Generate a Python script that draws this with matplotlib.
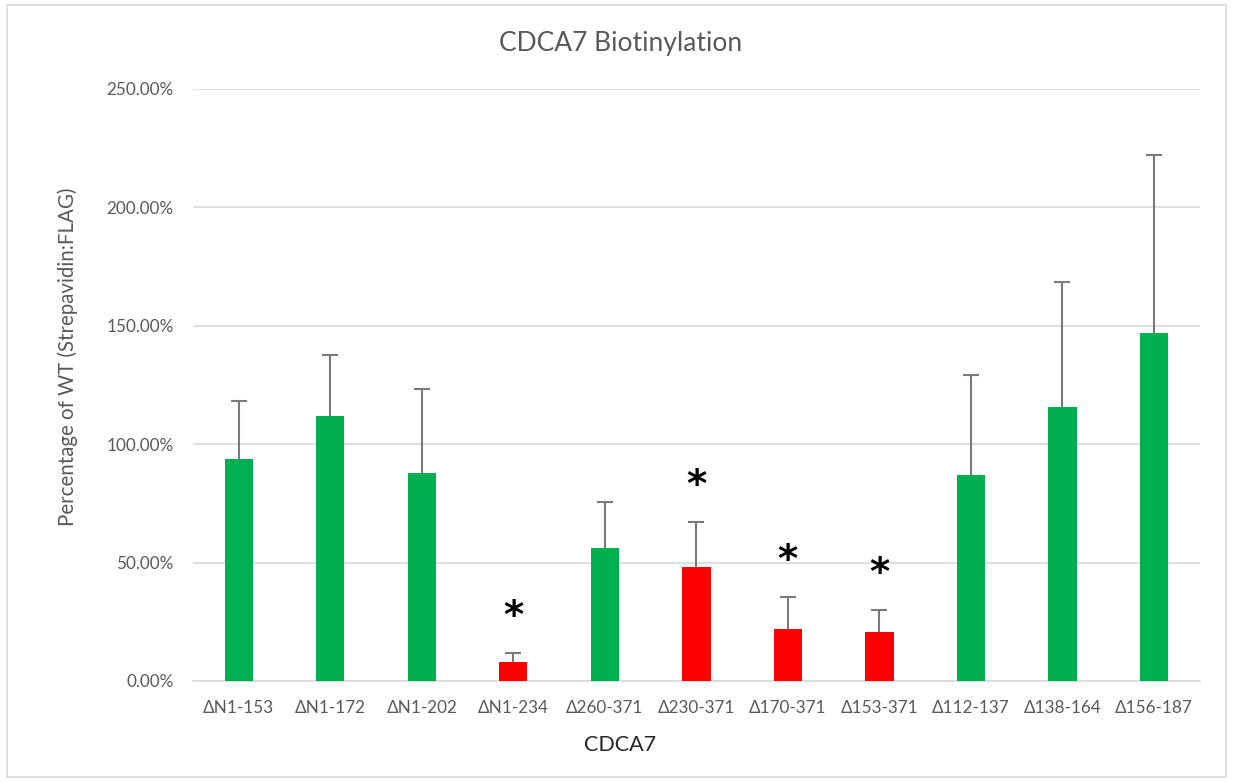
import numpy as np
import matplotlib.pyplot as plt
from matplotlib.ticker import PercentFormatter
from matplotlib.patches import Rectangle

# values (fraction of WT)
constructs = ['ΔN1-153', 'ΔN1-172', 'ΔN1-202', 'ΔN1-234', 'Δ260-371', 'Δ230-371',
              'Δ170-371', 'Δ153-371', 'Δ112-137', 'Δ138-164', 'Δ156-187']
means = [0.938, 1.119, 0.878, 0.080, 0.562, 0.481, 0.220, 0.207, 0.870, 1.157, 1.470]
errors = [0.244, 0.258, 0.355, 0.038, 0.194, 0.190, 0.135, 0.093, 0.422, 0.528, 0.751]
significant = [False, False, False, True, False, True, True, True, False, False, False]

GREEN = '#00b050'
RED = '#ff0000'
GRAY = '#595959'

plt.rcParams['font.family'] = ['Lato', 'DejaVu Sans']

fig = plt.figure(figsize=(12.33, 7.82), dpi=100)
ax = fig.add_axes([0.1565, 0.1292, 0.8165, 0.757])

# light border round the whole chart like the excel chart area
fig.patches.append(Rectangle((0.006, 0.006), 0.988, 0.987, transform=fig.transFigure,
                             fill=False, edgecolor='#d9d9d9', linewidth=1.2))

x = np.arange(len(constructs))
colors = [RED if s else GREEN for s in significant]
ax.bar(x, means, width=0.31, color=colors, zorder=3)
eb = ax.errorbar(x, means, yerr=[np.zeros(len(errors)), errors], fmt='none',
                 ecolor='#7a7a7a', elinewidth=1.5, capsize=6, capthick=1.5, zorder=4)
# only the upper cap, like the "plus" error bars in excel
eb[1][0].set_visible(False)

# significance stars above the error bars
for xi, m, e, s in zip(x, means, errors, significant):
    if s:
        ax.annotate('*', (xi, m + e), xytext=(0, 12), textcoords='offset points',
                    ha='center', va='bottom', fontsize=28, fontweight='bold',
                    color='black', family='DejaVu Sans')

ax.set_xlim(-0.5, len(constructs) - 0.5)
ax.set_ylim(0, 2.5)
ax.set_yticks(np.arange(0, 2.51, 0.5))
ax.yaxis.set_major_formatter(PercentFormatter(xmax=1, decimals=2))
ax.set_xticks(x)
ax.set_xticklabels(constructs)

ax.grid(axis='y', color='#d9d9d9', linewidth=1.2, zorder=0)
ax.set_axisbelow(True)
for side in ['top', 'right', 'left']:
    ax.spines[side].set_visible(False)
ax.spines['bottom'].set_color('#d9d9d9')
ax.spines['bottom'].set_linewidth(1.2)
ax.tick_params(axis='both', length=0, labelsize=12.3, labelcolor=GRAY)
ax.tick_params(axis='x', pad=14)
ax.tick_params(axis='y', pad=14)

# titles are placed on the whole chart area, as excel does
fig.text(0.503, 1 - 44 / 782, 'CDCA7 Biotinylation', fontsize=19, color=GRAY,
         ha='center', va='center')
fig.text(0.503, 1 - 745 / 782, 'CDCA7', fontsize=15.5, color='#262626',
         ha='center', va='center')
fig.text(68 / 1233, 1 - 357 / 782, 'Percentage of WT (Strepavidin:FLAG)',
         fontsize=14.8, color=GRAY, rotation=90, ha='center', va='center')

fig.savefig('out.png', dpi=100)
